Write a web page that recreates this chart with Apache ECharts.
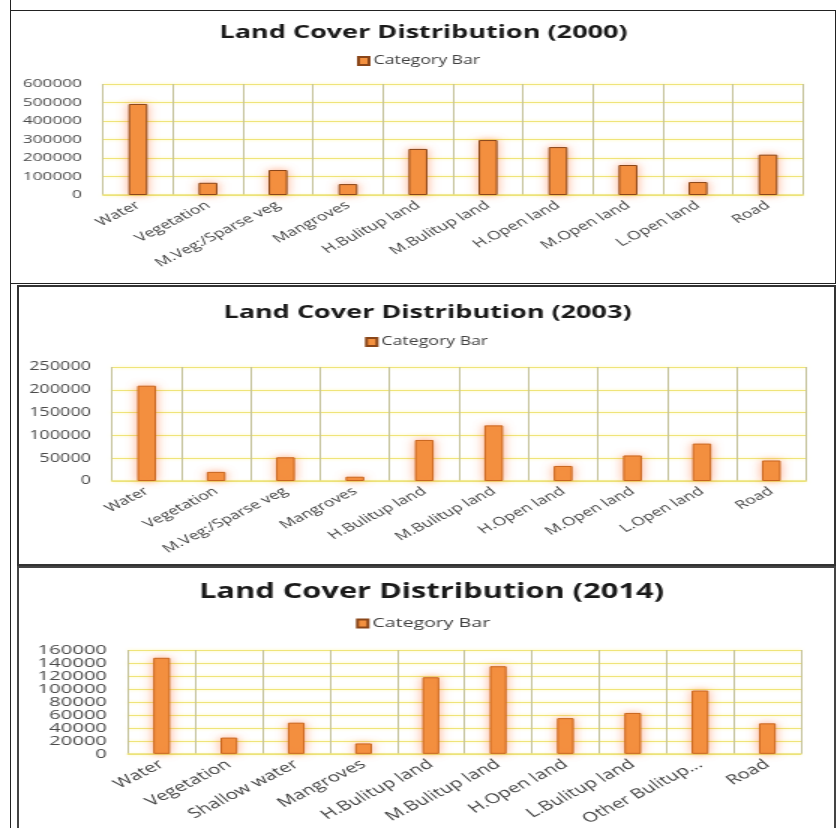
<!DOCTYPE html>
<html>
<head>
<meta charset="utf-8">
<script src="https://cdn.jsdelivr.net/npm/echarts@6/dist/echarts.min.js"></script>
<style>
  html, body { margin: 0; padding: 0; background: #fff; }
  #page { position: relative; width: 837px; height: 828px; overflow: hidden; }
  #chart { position: absolute; left: 0; top: 0; height: 828px; transform-origin: 0 0; }
  .box { position: absolute; box-sizing: border-box; pointer-events: none; }
</style>
</head>
<body>
<div id="page">
  <div id="chart"></div>
  <div class="box" style="left:10px;top:0;width:1px;height:828px;background:#222"></div>
  <div class="box" style="left:10px;top:10px;width:826px;height:274px;border:1.5px solid #222"></div>
  <div class="box" style="left:17px;top:285px;width:819px;height:281px;border:2px solid #333"></div>
  <div class="box" style="left:17px;top:566px;width:819px;height:280px;border:2px solid #444"></div>
</div>
<script>
// the source picture is stretched sideways, so the chart is drawn narrow and widened
var S = 1.5;

var titles = ['Land Cover Distribution (2000)', 'Land Cover Distribution (2003)', 'Land Cover Distribution (2014)'];

var cats2000 = ['Water', 'Vegetation', 'M.Veg:/Sparse veg', 'Mangroves', 'H.Bulitup land', 'M.Bulitup land', 'H.Open land', 'M.Open land', 'L.Open land', 'Road'];
var vals2000 = [492000, 66000, 135000, 59000, 249000, 297000, 259000, 162000, 70000, 218000];

var cats2003 = ['Water', 'Vegetation', 'M.Veg:/Sparse veg', 'Mangroves', 'H.Bulitup land', 'M.Bulitup land', 'H.Open land', 'M.Open land', 'L.Open land', 'Road'];
var vals2003 = [209000, 20000, 52000, 9400, 90000, 122000, 33000, 56000, 82000, 45000];

var cats2014 = ['Water', 'Vegetation', 'Shallow water', 'Mangroves', 'H.Bulitup land', 'M.Bulitup land', 'H.Open land', 'L.Bulitup land', 'Other Bulitup...', 'Road'];
var vals2014 = [148000, 25000, 48000, 16000, 118000, 135000, 55000, 63000, 97500, 47000];

var yMax = [600000, 250000, 160000];
var yStep = [100000, 50000, 20000];

var el = document.getElementById('chart');
el.style.width = (837 / S) + 'px';
el.style.transform = 'scaleX(' + S + ')';
var myChart = echarts.init(el);

function X(v) { return v / S; }

// real-pixel layout of each panel
var panels = [
    { cx: 416, titleTop: 19, titleSize: 18, legendLeft: 357, legendTop: 55, legendSize: 11.8, left: 103, right: 803, top: 84, bottom: 195, ySize: 11.5, xSize: 11.8, border: '#8a4619' },
    { cx: 420, titleTop: 299, titleSize: 18, legendLeft: 365, legendTop: 336, legendSize: 11.8, left: 112, right: 806, top: 367, bottom: 481, ySize: 12, xSize: 11.8, border: '#c8651e' },
    { cx: 424, titleTop: 577, titleSize: 20.5, legendLeft: 356, legendTop: 617, legendSize: 13, left: 128, right: 801, top: 650, bottom: 755, ySize: 13.5, xSize: 13.5, border: '#c8651e' }
];
var cats = [cats2000, cats2003, cats2014];
var vals = [vals2000, vals2003, vals2014];

var title = [], legend = [], grid = [], xAxis = [], yAxis = [], series = [];
for (var i = 0; i < 3; i++) {
    var p = panels[i];
    title.push({
        text: titles[i],
        left: X(p.cx),
        top: p.titleTop,
        textAlign: 'center',
        textStyle: { fontFamily: 'Open Sans', fontWeight: 'bold', fontSize: p.titleSize, color: '#1a1a1a' }
    });
    legend.push({
        data: ['Category Bar'],
        left: X(p.legendLeft),
        top: p.legendTop,
        padding: 0,
        icon: 'rect',
        itemWidth: 7,
        itemHeight: 8,
        itemGap: 4,
        selectedMode: false,
        textStyle: { fontFamily: 'Open Sans', fontSize: p.legendSize, color: '#404040', padding: [0, 0, 0, -2] }
    });
    grid.push({
        left: X(p.left),
        width: X(p.right - p.left),
        top: p.top,
        height: p.bottom - p.top,
        containLabel: false
    });
    xAxis.push({
        type: 'category',
        gridIndex: i,
        data: cats[i],
        axisTick: { show: false },
        axisLine: { lineStyle: { color: '#ece27a', width: 1.5 } },
        splitLine: { //网格线
            show: true,
            lineStyle: { color: '#c4c29a', width: 1 }
        },
        axisLabel: {
            interval: 0,
            rotate: 37,
            margin: 9,
            fontFamily: 'Open Sans',
            fontSize: p.xSize,
            color: '#404040'
        }
    });
    // 2014 ticks are too close for one axis to keep every label, so every other one goes on a twin axis
    var crowded = i == 2;
    var step = yStep[i];
    yAxis.push({
        type: 'value',
        gridIndex: i,
        min: 0,
        max: yMax[i],
        interval: step,
        axisLine: { show: false },
        axisTick: { show: false },
        splitLine: {
            lineStyle: { color: '#efe47a', width: 1.2, shadowBlur: 3, shadowColor: 'rgba(255,245,140,0.9)' }
        },
        axisLabel: {
            margin: X(21),
            showMinLabel: true,
            showMaxLabel: true,
            fontFamily: 'Open Sans',
            fontSize: p.ySize,
            color: '#4a4a4a',
            formatter: crowded
                ? function (v) { return v % 40000 === 0 ? String(v) : ''; }
                : function (v) { return String(v); }
        }
    });
    series.push({
        name: 'Category Bar',
        type: 'bar',
        xAxisIndex: i,
        yAxisIndex: i,
        barWidth: i == 2 ? '25%' : '27%',
        itemStyle: {
            color: '#f39140',
            borderColor: p.border,
            borderWidth: 1,
            shadowBlur: 7,
            shadowColor: 'rgba(255,120,60,0.55)'
        },
        data: vals[i]
    });
}

yAxis.push({
    type: 'value',
    gridIndex: 2,
    position: 'left',
    min: 0,
    max: yMax[2],
    interval: yStep[2],
    axisLine: { show: false },
    axisTick: { show: false },
    splitLine: { show: false },
    axisLabel: {
        margin: X(21),
        showMinLabel: false,
        showMaxLabel: false,
        fontFamily: 'Open Sans',
        fontSize: panels[2].ySize,
        color: '#4a4a4a',
        formatter: function (v) { return v % 40000 === 0 ? '' : String(v); }
    }
});

myChart.setOption({
    animation: false,
    backgroundColor: '#fff',
    title: title,
    legend: legend,
    grid: grid,
    xAxis: xAxis,
    yAxis: yAxis,
    series: series
});
</script>
</body>
</html>
